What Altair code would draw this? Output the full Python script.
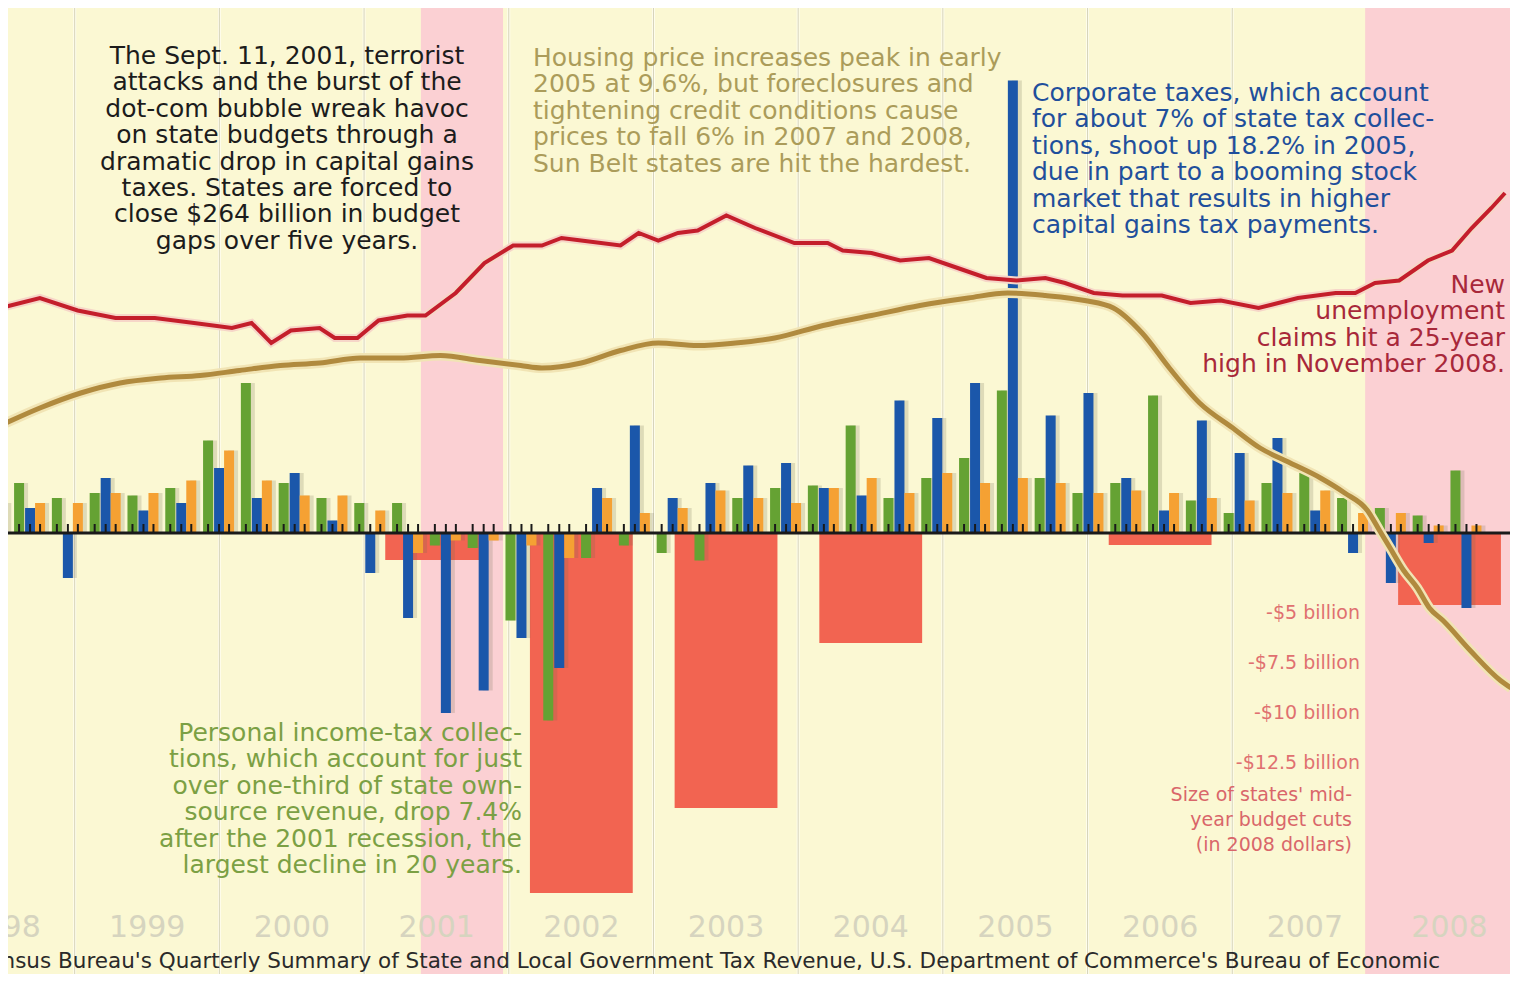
import altair as alt
import pandas as pd

# ---------------- data ----------------
# quarterly tax-collection change (%), 1998 Q4 .. 2008 Q3
quarters = [f"{y} Q{q}" for y in range(1998, 2009) for q in range(1, 5)][3:43]
personal_income = [1.0, 2.0, 1.4, 1.6, 1.5, 1.8, 3.7, 6.0, 2.0, 1.4,
                   1.2, 1.2, -0.5, -0.6, -3.5, -7.5, -1.0, -0.5, -0.8, -1.1,
                   1.4, 1.8, 1.9, 4.3, 1.4, 2.2, 3.0, 5.7, 2.2, 1.6,
                   2.0, 5.5, 1.3, 0.8, 2.0, 2.4, 1.4, 1.0, 0.7, 2.5]
corporate = [0.8, 1.0, -1.8, 2.2, 0.9, 1.2, 2.6, 1.4, 2.4, 0.5,
             -1.6, -3.4, -7.2, -6.3, -4.2, -5.4, 1.8, 4.3, 1.4, 2.0,
             2.7, 2.8, 1.8, 1.5, 5.3, 4.6, 6.0, 18.1, 4.7, 5.6,
             2.2, 0.9, 4.5, 3.2, 3.8, 0.9, -0.8, -2.0, -0.4, -3.0]
sales = [1.2, 1.2, 1.2, 1.6, 1.6, 2.1, 3.3, 2.1, 1.5, 1.5,
         0.9, -0.8, -0.3, -0.3, -0.5, -1.0, 1.4, 0.8, 1.0, 1.7,
         1.4, 1.2, 1.8, 2.2, 1.6, 2.4, 2.0, 2.2, 2.0, 1.6,
         1.7, 1.6, 1.4, 1.3, 1.6, 1.7, 0.8, 0.8, 0.3, 0.3]

# states' mid-year budget cuts (billions, 2008 dollars)
cut_years = [2001, 2002, 2003, 2004, 2006, 2008]
cut_billions = [1.35, 18.0, 13.75, 5.5, 0.6, 3.6]
cut_ticks = [5, 7.5, 10, 12.5]
cut_tick_labels = ["-$5 billion", "-$7.5 billion", "-$10 billion", "-$12.5 billion"]

# housing price change (%), decimal year
house_t = [1998.93, 1999.19, 1999.46, 1999.72, 1999.99, 2000.25, 2000.51, 2000.78, 2001.04,
           2001.31, 2001.57, 2001.84, 2002.10, 2002.37, 2002.51, 2002.77, 2003.03, 2003.28,
           2003.54, 2003.79, 2004.05, 2004.37, 2004.69, 2005.01, 2005.33, 2005.59, 2005.84,
           2006.10, 2006.29, 2006.48, 2006.66, 2006.86, 2007.08, 2007.26, 2007.46, 2007.66,
           2007.82, 2007.97, 2008.05, 2008.12, 2008.21, 2008.30, 2008.38, 2008.47,
           2008.65, 2008.85, 2008.92]
house_v = [4.3, 5.0, 5.6, 6.0, 6.2, 6.3, 6.5, 6.7, 6.8,
           7.0, 7.0, 7.1, 6.9, 6.7, 6.6, 6.8, 7.3, 7.6,
           7.5, 7.6, 7.8, 8.3, 8.7, 9.1, 9.4, 9.6, 9.5,
           9.3, 9.0, 8.0, 6.6, 5.2, 4.2, 3.4, 2.8, 2.2,
           1.6, 0.9, 0.1, -0.6, -1.5, -2.2, -3.0, -3.5,
           -4.7, -5.9, -6.2]

# new unemployment claims (index on chart scale), decimal year
claims_t = [1998.93, 1999.19, 1999.44, 1999.69, 1999.95, 2000.21, 2000.46, 2000.59, 2000.72,
            2000.85, 2001.04, 2001.14, 2001.29, 2001.43, 2001.62, 2001.74, 2001.94, 2002.13,
            2002.32, 2002.51, 2002.64, 2002.77, 2003.03, 2003.15, 2003.28, 2003.41, 2003.54,
            2003.73, 2003.92, 2004.18, 2004.40, 2004.50, 2004.69, 2004.88, 2005.07, 2005.26,
            2005.45, 2005.65, 2005.84, 2005.97, 2006.16, 2006.35, 2006.61, 2006.80, 2007.00,
            2007.25, 2007.51, 2007.76, 2007.89, 2008.02, 2008.18, 2008.37, 2008.53, 2008.66,
            2008.79, 2008.88]
claims_v = [9.0, 9.4, 8.9, 8.6, 8.6, 8.4, 8.2, 8.4, 7.6,
            8.1, 8.2, 7.8, 7.8, 8.5, 8.7, 8.7, 9.6, 10.8,
            11.5, 11.5, 11.8, 11.7, 11.5, 12.0, 11.7, 12.0, 12.1,
            12.7, 12.2, 11.6, 11.6, 11.3, 11.2, 10.9, 11.0, 10.6,
            10.2, 10.1, 10.2, 10.0, 9.6, 9.5, 9.5, 9.2, 9.3,
            9.0, 9.4, 9.6, 9.6, 10.0, 10.1, 10.9, 11.3, 12.2,
            13.0, 13.6]

years = list(range(1998, 2009))
recession_start = [2001.71, 2007.955]
recession_end = [2002.253, 2009.2]

source_text = ("Sources: U.S. Census Bureau's Quarterly Summary of State and Local Government Tax "
               "Revenue, U.S. Department of Commerce's Bureau of Economic")

# ---------------- layout ----------------
W, H = 1502, 966
X_DOMAIN = [1998.979, 2008.913]
Y_DOMAIN = [-17.64, 21.0]
PX = (X_DOMAIN[1] - X_DOMAIN[0]) / W      # years per pixel
PY = (Y_DOMAIN[1] - Y_DOMAIN[0]) / H      # units per pixel
FONT = "DejaVu Sans"

xs = alt.Scale(domain=X_DOMAIN, nice=False, zero=False)
ys = alt.Scale(domain=Y_DOMAIN, nice=False, zero=False)


def X(f):
    return alt.X(f, type="quantitative", scale=xs, axis=None)


def Y(f):
    return alt.Y(f, type="quantitative", scale=ys, axis=None)


def label_t(year):
    return 1999.9 + 0.957 * (year - 1999)


# bars table
rows = []
series = [("Personal income tax", personal_income, -11),
          ("Corporate tax", corporate, 0),
          ("Sales tax", sales, 10)]
for qi, q in enumerate(quarters):
    yr, qq = int(q[:4]), int(q[-1])
    tc = yr + (qq - 1) / 4 + 0.125
    for name, vals, off in series:
        c = tc + off * PX
        rows.append({"quarter": q, "series": name, "value": vals[qi],
                     "x1": c - 5.0 * PX, "x2": c + 5.0 * PX,
                     "s1": c - 1.0 * PX, "s2": c + 9.0 * PX,
                     "c": c, "zero": 0.0, "tick": 9 * PY})
bars = pd.DataFrame(rows)

cuts = pd.DataFrame({"year": cut_years, "bn": cut_billions})
cuts["x1"] = cuts["year"].map(label_t) - 0.34
cuts["x2"] = cuts["year"].map(label_t) + 0.34
cuts["v"] = -cuts["bn"] * 20 * PY
cuts["zero"] = 0.0

cut_lab = pd.DataFrame({"bn": cut_ticks, "text": cut_tick_labels})
cut_lab["v"] = -cut_lab["bn"] * 20 * PY + 20 * PY
cut_lab["t"] = X_DOMAIN[0] + (1360 - 8) * PX

house = pd.DataFrame({"t": house_t, "v": house_v})
claims = pd.DataFrame({"t": claims_t, "v": claims_v})
bands = pd.DataFrame({"a": recession_start, "b": recession_end})
grid = pd.DataFrame({"t": [label_t(y) - 0.48 for y in years[:-1]]})
ylab = pd.DataFrame({"t": [label_t(y) for y in years], "text": [str(y) for y in years]})
ylab["v"] = Y_DOMAIN[1] - (928 - 8) * PY
axis_df = pd.DataFrame({"zero": [0.0]})


def px_t(p):
    return X_DOMAIN[0] + (p - 8) * PX


def py_v(p):
    return Y_DOMAIN[1] - (p - 8) * PY


def note(text, p_x, p_y, align, color, size=25, lh=26.4, weight="normal"):
    df = pd.DataFrame({"t": [px_t(p_x)], "v": [py_v(p_y)], "text": [text]})
    return alt.Chart(df).mark_text(
        align=align, baseline="top", font=FONT, fontSize=size, color=color,
        lineBreak="\n", lineHeight=lh, fontWeight=weight
    ).encode(x=X("t"), y=Y("v"), text="text:N")


layers = []
layers.append(alt.Chart(bands).mark_rect(color="#fbd0d3", clip=True).encode(
    x=X("a"), x2="b", y=alt.value(0), y2=alt.value(H)))
layers.append(alt.Chart(grid).mark_rule(color="#fffef4", strokeWidth=3, opacity=0.8, clip=True).encode(
    x=X("t"), y=alt.value(0), y2=alt.value(H)))
layers.append(alt.Chart(grid).mark_rule(color="#d6d3b8", strokeWidth=1, clip=True).encode(
    x=X("t"), y=alt.value(0), y2=alt.value(H)))
layers.append(alt.Chart(cuts).mark_rect(color="#f26451").encode(
    x=X("x1"), x2="x2", y=Y("v"), y2="zero"))
layers.append(alt.Chart(bars).mark_rect(color="#6d6a50", opacity=0.2, clip=True).encode(
    x=X("s1"), x2="s2", y=Y("value"), y2="zero"))
layers.append(alt.Chart(bars).mark_rect(clip=True).encode(
    x=X("x1"), x2="x2", y=Y("value"), y2="zero",
    color=alt.Color("series:N", legend=None,
                    scale=alt.Scale(domain=["Personal income tax", "Corporate tax", "Sales tax"],
                                    range=["#65a233", "#1b57aa", "#f5a133"]))))
layers.append(alt.Chart(axis_df).mark_rule(color="#1a1a1a", strokeWidth=3).encode(
    y=Y("zero"), x=alt.value(0), x2=alt.value(W)))
layers.append(alt.Chart(bars).mark_rule(color="#1a1a1a", strokeWidth=2, clip=True).encode(
    x=X("c"), y=Y("zero"), y2="tick"))
layers.append(alt.Chart(claims).mark_line(color="#f6d6c8", strokeWidth=8, clip=True).encode(
    x=X("t"), y=Y("v")))
layers.append(alt.Chart(claims).mark_line(color="#c41e2b", strokeWidth=4, clip=True).encode(
    x=X("t"), y=Y("v")))
layers.append(alt.Chart(house).mark_line(color="#f1e4b4", strokeWidth=10, interpolate="monotone", clip=True).encode(
    x=X("t"), y=Y("v")))
layers.append(alt.Chart(house).mark_line(color="#b08a3e", strokeWidth=5, interpolate="monotone", clip=True).encode(
    x=X("t"), y=Y("v")))

layers.append(note("The Sept. 11, 2001, terrorist\nattacks and the burst of the\ndot-com bubble wreak havoc\n"
                   "on state budgets through a\ndramatic drop in capital gains\ntaxes. States are forced to\n"
                   "close $264 billion in budget\ngaps over five years.", 287, 44, "center", "#1c1c1c"))
layers.append(note("Housing price increases peak in early\n2005 at 9.6%, but foreclosures and\n"
                   "tightening credit conditions cause\nprices to fall 6% in 2007 and 2008,\n"
                   "Sun Belt states are hit the hardest.", 533, 46, "left", "#ab9c5a"))
layers.append(note("Corporate taxes, which account\nfor about 7% of state tax collec-\n"
                   "tions, shoot up 18.2% in 2005,\ndue in part to a booming stock\n"
                   "market that results in higher\ncapital gains tax payments.", 1032, 81, "left", "#1f4f9c"))
layers.append(note("New\nunemployment\nclaims hit a 25-year\nhigh in November 2008.",
                   1505, 273, "right", "#a8283a"))
layers.append(note("Personal income-tax collec-\ntions, which account for just\nover one-third of state own-\n"
                   "source revenue, drop 7.4%\nafter the 2001 recession, the\nlargest decline in 20 years.",
                   522, 721, "right", "#7ba044"))
layers.append(note("Size of states' mid-\nyear budget cuts\n(in 2008 dollars)",
                   1352, 786, "right", "#d9666a", size=19, lh=25))
layers.append(alt.Chart(cut_lab).mark_text(align="right", baseline="middle", font=FONT, fontSize=19,
                                           color="#e07070").encode(x=X("t"), y=Y("v"), text="text:N"))
layers.append(alt.Chart(ylab).mark_text(align="center", baseline="middle", font=FONT, fontSize=30,
                                        color="#d6d4bf", clip=True).encode(x=X("t"), y=Y("v"), text="text:N"))
src = pd.DataFrame({"t": [px_t(1440)], "v": [py_v(962)], "text": [source_text]})
layers.append(alt.Chart(src).mark_text(align="right", baseline="middle", font=FONT, fontSize=21.5,
                                       color="#2a2a2a").encode(x=X("t"), y=Y("v"), text="text:N"))

chart = alt.layer(*layers).properties(
    width=W, height=H, padding=0, background="#fbf8d3",
    autosize=alt.AutoSizeParams(type="none")
).configure_view(stroke=None, fill="#fbf8d3")

chart.save("out.html", embed_options={"renderer": "svg", "actions": False})
